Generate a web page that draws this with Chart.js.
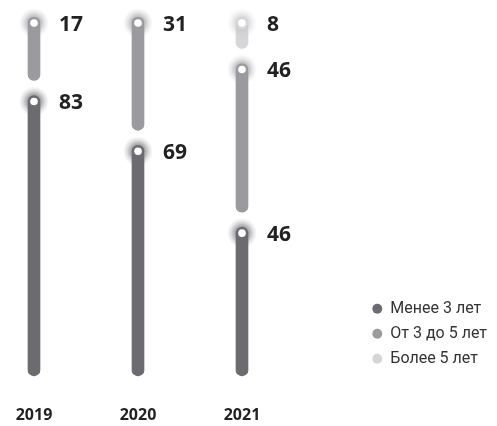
<!DOCTYPE html>
<html><head><meta charset="utf-8">
<script src="https://cdn.jsdelivr.net/npm/chart.js@4/dist/chart.umd.min.js"></script>
<style>html,body{margin:0;padding:0;background:#fff}#wrap{width:497px;height:426px;position:relative}</style>
</head><body><div id="wrap"><canvas id="c"></canvas></div>
<script>
// ---- data ----
const categories = ['2019', '2020', '2021'];
const seriesNames = ['Менее 3 лет', 'От 3 до 5 лет', 'Более 5 лет'];
const lessThan3 = [83, 69, 46];
const from3to5 = [17, 31, 46];
const moreThan5 = [0, 0, 8];

// ---- style ----
const colors = ['#6b6b70', '#9b9b9f', '#d6d6d8'];
const glowRGB = ['107,107,112', '155,155,159', '200,200,203'];
const GAP = 18;
const MARK_OFF = 3;
const X0 = 34, STEP = 104;
const R6 = {topLeft: 6, topRight: 6, bottomLeft: 6, bottomRight: 6};

const seriesValues = [lessThan3, from3to5, moreThan5];
const datasets = seriesValues.map((vals, d) => ({
  label: seriesNames[d],
  data: vals.map((v, i) => ({x: i, y: v})),
  backgroundColor: colors[d],
  borderWidth: 0,
  borderRadius: R6,
  borderSkipped: false,
  barThickness: 12,
  clip: false
}));

const segPlugin = {
  id: 'segGap',
  afterDatasetsUpdate(chart) {
    const n = chart.data.datasets.length;
    for (let d = 0; d < n; d++) {
      chart.getDatasetMeta(d).data.forEach((bar, i) => {
        let above = false;
        for (let e = d + 1; e < n; e++) if (chart.data.datasets[e].data[i].y > 0) above = true;
        if (above) bar.y += GAP;
      });
    }
  },
  afterDatasetsDraw(chart) {
    const ctx = chart.ctx;
    chart.data.datasets.forEach((ds, d) => {
      chart.getDatasetMeta(d).data.forEach((bar, i) => {
        const v = ds.data[i].y;
        if (!v) return;
        const x = bar.x, y = bar.y + MARK_OFF;
        ctx.save();
        const g = ctx.createRadialGradient(x, y, 0, x, y, 15);
        g.addColorStop(0, 'rgba(' + glowRGB[d] + ',0.85)');
        g.addColorStop(0.45, 'rgba(' + glowRGB[d] + ',0.6)');
        g.addColorStop(0.75, 'rgba(' + glowRGB[d] + ',0.2)');
        g.addColorStop(1, 'rgba(' + glowRGB[d] + ',0)');
        ctx.fillStyle = g;
        ctx.beginPath(); ctx.arc(x, y, 15, 0, Math.PI * 2); ctx.fill();
        ctx.fillStyle = colors[d];
        ctx.beginPath(); ctx.arc(x, y, 6.3, 0, Math.PI * 2); ctx.fill();
        ctx.fillStyle = '#ffffff';
        ctx.beginPath(); ctx.arc(x, y, 3.8, 0, Math.PI * 2); ctx.fill();
        ctx.fillStyle = '#222222';
        ctx.font = 'bold 21px "Open Sans"';
        ctx.textAlign = 'left';
        ctx.textBaseline = 'middle';
        ctx.fillText(String(v), x + 25, y + 2);
        ctx.restore();
      });
    });
  }
};

new Chart(document.getElementById('c'), {
  type: 'bar',
  data: {datasets},
  plugins: [segPlugin],
  options: {
    responsive: true,
    maintainAspectRatio: false,
    animation: false,
    layout: {padding: {top: 20, bottom: -3, left: 0, right: 0}},
    plugins: {
      tooltip: {enabled: false},
      legend: {
        position: 'right',
        align: 'end',
        fullSize: false,
        labels: {
          usePointStyle: true,
          pointStyle: 'circle',
          boxWidth: 10,
          boxHeight: 7,
          padding: 9,
          color: '#333333',
          font: {family: 'Roboto', size: 16}
        }
      }
    },
    scales: {
      x: {
        type: 'linear',
        stacked: true,
        offset: false,
        bounds: 'data',
        grid: {display: false, drawTicks: true, tickLength: 26, color: 'rgba(0,0,0,0)', offset: false},
        border: {display: false},
        afterDataLimits(s) { s.min = -X0 / STEP; s.max = s.min + s.width / STEP; },
        afterBuildTicks(s) { s.ticks = categories.map((c, i) => ({value: i})); },
        ticks: {
          padding: 4,
          autoSkip: false,
          maxRotation: 0,
          color: '#222222',
          font: {family: 'Open Sans', weight: 'bold', size: 16},
          callback: (v) => categories[v]
        }
      },
      y: {display: false, stacked: true, min: 0, max: 100}
    }
  }
});
</script></body></html>
